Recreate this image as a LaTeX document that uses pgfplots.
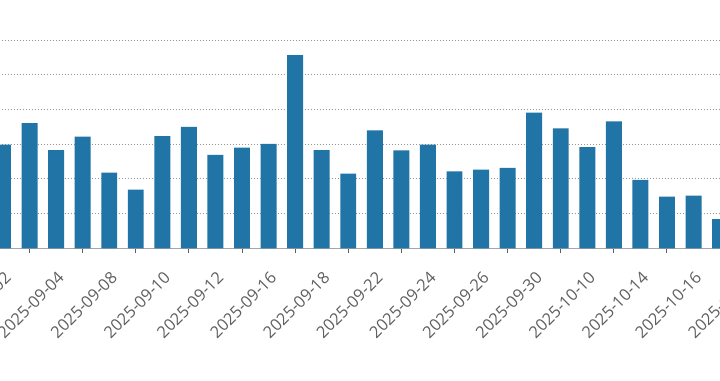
\documentclass[border=0pt]{standalone}
\usepackage{fontspec}
\setmainfont{Open Sans}
\usepackage{pgfplots}
\pgfplotsset{compat=1.18}
\newlength\px \setlength\px{0.75pt}
\definecolor{barblue}{RGB}{32,117,166}
\definecolor{tickgray}{RGB}{95,95,95}
\definecolor{gridgray}{RGB}{150,150,150}
\begin{document}
\begin{tikzpicture}
\useasboundingbox (0,0) rectangle (720\px,-380\px);
\clip (0,0) rectangle (720\px,-380\px);
\begin{axis}[
 at={(-10.3\px,-248.3\px)}, anchor=south west,
 scale only axis, width=796.8\px, height=239.4\px,
 xmin=-0.5, xmax=29.5, ymin=0, ymax=6.9,
 axis x line*=bottom, axis y line*=left,
 y axis line style={draw=none},
 ytick={0,...,6}, yticklabels={}, ytick style={draw=none},
 ymajorgrids, grid style={dash pattern=on 1\px off 2\px, gridgray, line width=1\px},
 xtick={1,3,...,29},
 xticklabels={2025-09-02,2025-09-04,2025-09-08,2025-09-10,2025-09-12,2025-09-16,2025-09-18,2025-09-22,2025-09-24,2025-09-26,2025-09-30,2025-10-10,2025-10-14,2025-10-16,2025-10-20},
 x axis line style={draw=gray!70, line width=1\px},
 xtick style={draw=tickgray, line width=1\px},
 tick align=outside, major tick length=5\px,
 xticklabel style={xshift=-26\px, yshift=-16.7\px, rotate=45, anchor=north east, inner sep=0pt, font=\fontsize{12.3}{14}\selectfont, text=tickgray},
 ybar, bar width=0.6,
]
\addplot[fill=barblue, draw=none] coordinates {
(0,2.99) (1,3.61) (2,2.83) (3,3.22) (4,2.18) (5,1.69) (6,3.23) (7,3.50)
(8,2.69) (9,2.90) (10,3.01) (11,5.57) (12,2.83) (13,2.15) (14,3.40)
(15,2.82) (16,2.99) (17,2.22) (18,2.27) (19,2.32) (20,3.91) (21,3.46)
(22,2.92) (23,3.66) (24,1.97) (25,1.49) (26,1.52) (27,0.84)};
\end{axis}
\end{tikzpicture}
\end{document}
